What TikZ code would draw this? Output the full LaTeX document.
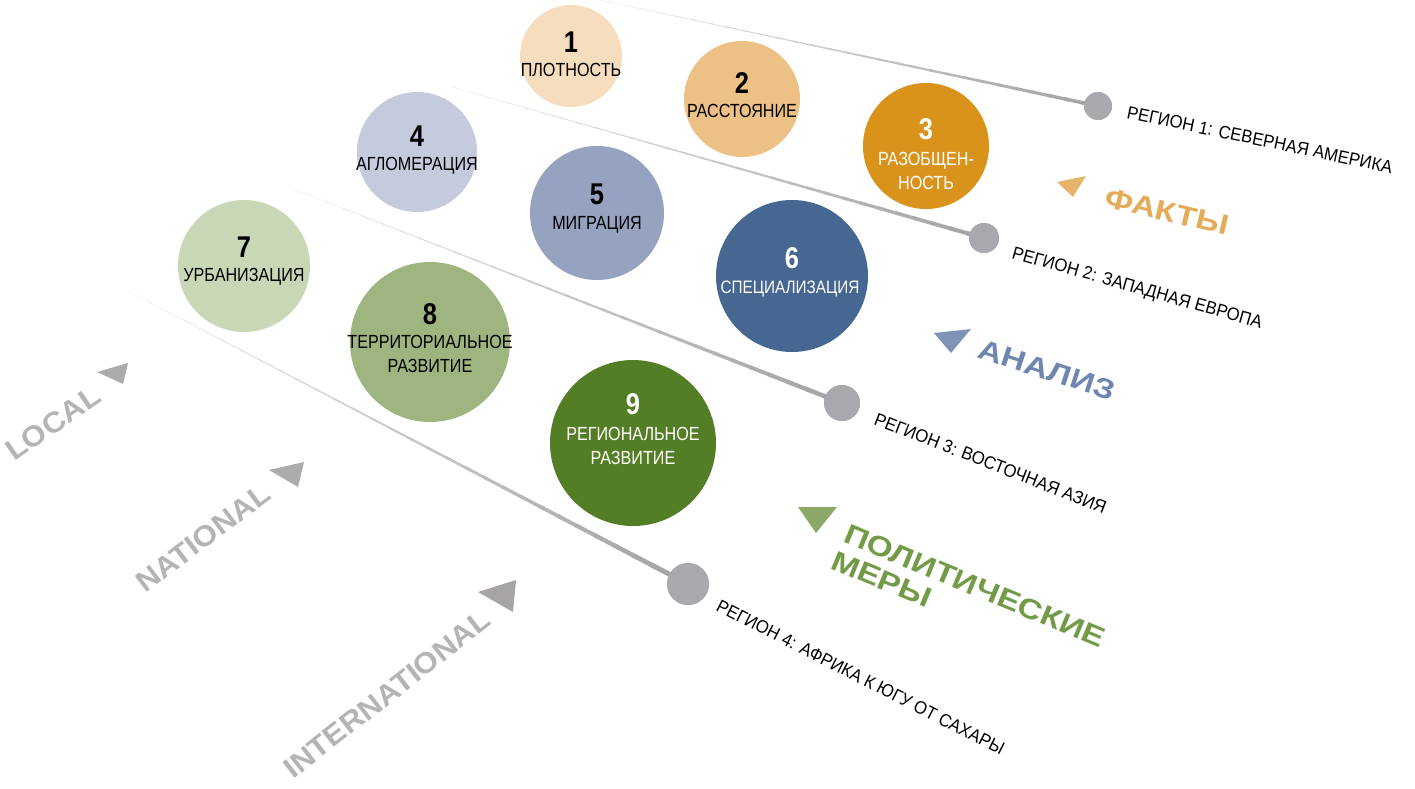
\documentclass[tikz,border=0pt]{standalone}
\usepackage{fontspec}
\setmainfont{Liberation Sans}
\newfontfamily\condf[FakeStretch=0.85]{Liberation Sans}
\newfontfamily\regf[FakeStretch=0.93]{Liberation Sans}
\newfontfamily\widef[FakeStretch=1.2]{Liberation Sans}
\newfontfamily\axf[FakeStretch=1.08]{Liberation Sans}
\usetikzlibrary{calc}
\definecolor{cA}{HTML}{F5DDBD}
\definecolor{cB}{HTML}{EDC185}
\definecolor{cC}{HTML}{D9921A}
\definecolor{cD}{HTML}{C5CADD}
\definecolor{cE}{HTML}{95A3C0}
\definecolor{cF}{HTML}{456791}
\definecolor{cG}{HTML}{C9D7B6}
\definecolor{cH}{HTML}{9EB57F}
\definecolor{cI}{HTML}{547E25}
\definecolor{dotgray}{HTML}{A7A9AC}
\definecolor{axgray}{HTML}{B4B4B6}
\definecolor{axtri}{HTML}{ACABAD}
\definecolor{axtriB}{HTML}{A8A4A4}
\definecolor{faktxt}{HTML}{E4AC58}
\definecolor{faktri}{HTML}{E6B46A}
\definecolor{antxt}{HTML}{6F87B0}
\definecolor{antri}{HTML}{7F93B8}
\definecolor{poltxt}{HTML}{739B47}
\definecolor{poltri}{HTML}{8BA866}
\begin{document}
\begin{tikzpicture}[x=1pt,y=-1pt,
  bub/.style={circle, inner sep=0pt, minimum size=#1pt, draw=none},
  num/.style={font=\condf\bfseries\fontsize{30}{30}\selectfont, inner sep=0pt},
  lab/.style={font=\condf\fontsize{19}{24}\selectfont, inner sep=0pt, anchor=base},
  dotn/.style={circle, fill=dotgray, inner sep=0pt, minimum size=#1pt},
  reg/.style={font=\regf\fontsize{18}{22}\selectfont, inner sep=0pt, anchor=base west},
  big/.style={font=\widef\bfseries\fontsize{28}{30}\selectfont, inner sep=0pt, anchor=base west},
  axl/.style={font=\axf\bfseries\fontsize{29}{29}\selectfont, inner sep=0pt, anchor=base west, text=axgray},
]
\useasboundingbox (0,0) rectangle (1415,788);
\clip (0,0) rectangle (1415,788);

% start points of the connectors
\coordinate (s1) at (590,-2);
\coordinate (s2) at (452,87);
\coordinate (s3) at (288,187);
\coordinate (s4) at (128,291);

% region dots
\node[dotn=28] (r1) at (1098,106) {};
\node[dotn=30] (r2) at (984,238) {};
\node[dotn=36] (r3) at (842,403) {};
\node[dotn=42] (r4) at (688,584) {};

% tapered connectors
\foreach \s/\e/\w in {s1/r1/3.8, s2/r2/4.4, s3/r3/4.8, s4/r4/5.4}{
  \foreach \i in {0,...,29}{
    \pgfmathsetmacro\ta{\i/30}
    \pgfmathsetmacro\tb{(\i+1.3)/30}
    \pgfmathsetmacro\lw{0.4+(\w-0.4)*(\ta)^1.4}
    \pgfmathsetmacro\cc{7+30*\ta}
    \draw[line width=\lw pt, draw=black!\cc] ($(\s)!\ta!(\e)$) -- ($(\s)!\tb!(\e)$);
  }
}
% redraw dots on top
\fill[dotgray] (r1) circle (14);
\fill[dotgray] (r2) circle (15);
\fill[dotgray] (r3) circle (18);
\fill[dotgray] (r4) circle (21);

% bubbles
\node[bub=102, fill=cA] (b1) at (571,56) {};
\node[bub=116, fill=cB] (b2) at (742,99) {};
\node[bub=126, fill=cC] (b3) at (926,146) {};
\node[bub=120, fill=cD] (b4) at (417,152) {};
\node[bub=134, fill=cE] (b5) at (597,213) {};
\node[bub=152, fill=cF] (b6) at (792,276) {};
\node[bub=132, fill=cG] (b7) at (244,266) {};
\node[bub=160, fill=cH] (b8) at (430,342) {};
\node[bub=166, fill=cI] (b9) at (633,443) {};

% bubble texts
\node[num] (n1) at (571,42) {1};
\node[lab] (l1) at (571,76) {ПЛОТНОСТЬ};
\node[num] (n2) at (742,83) {2};
\node[lab] (l2) at (742,117) {РАССТОЯНИЕ};
\node[num, text=white] (n3) at (926,129) {3};
\node[lab, text=white] (l3a) at (926,165) {РАЗОБЩЕН-};
\node[lab, text=white] (l3b) at (926,189) {НОСТЬ};
\node[num] (n4) at (417,136) {4};
\node[lab] (l4) at (417,170) {АГЛОМЕРАЦИЯ};
\node[num] (n5) at (597,194) {5};
\node[lab] (l5) at (597,229) {МИГРАЦИЯ};
\node[num, text=white] (n6) at (792,258) {6};
\node[lab, text=white, font=\condf\fontsize{18}{24}\selectfont] (l6) at (790,293) {СПЕЦИАЛИЗАЦИЯ};
\node[num] (n7) at (244,247) {7};
\node[lab] (l7) at (244,281) {УРБАНИЗАЦИЯ};
\node[num] (n8) at (430,314) {8};
\node[lab] (l8a) at (430,348) {ТЕРРИТОРИАЛЬНОЕ};
\node[lab] (l8b) at (430,372) {РАЗВИТИЕ};
\node[num, text=white] (n9) at (633,404) {9};
\node[lab, text=white] (l9a) at (633,440) {РЕГИОНАЛЬНОЕ};
\node[lab, text=white] (l9b) at (633,464) {РАЗВИТИЕ};

% region labels
\node[reg, rotate=-11.8] (t1) at (1126,118) {РЕГИОН 1: СЕВЕРНАЯ АМЕРИКА};
\node[reg, rotate=-15.8] (t2) at (1011,258) {РЕГИОН 2: ЗАПАДНАЯ ЕВРОПА};
\node[reg, rotate=-21.3] (t3) at (873,424) {РЕГИОН 3: ВОСТОЧНАЯ АЗИЯ};
\node[reg, rotate=-27] (t4) at (715,610) {РЕГИОН 4: АФРИКА К ЮГУ ОТ САХАРЫ};

% category labels
\fill[faktri] (1057,182) -- (1086,176) -- (1073,197) -- cycle;
\node[big, text=faktxt, rotate=-13.5] (fak) at (1103,206) {ФАКТЫ};
\fill[antri] (934,333) -- (971,329) -- (951,353) -- cycle;
\node[big, text=antxt, rotate=-18] (ana) at (976,357) {АНАЛИЗ};
\fill[poltri] (798,507) -- (837,507) -- (816,533) -- cycle;
\node[big, text=poltxt, rotate=-22.5] (pol) at (842,541) {ПОЛИТИЧЕСКИЕ};
\node[big, text=poltxt, rotate=-22.5] (mer) at (829,568) {МЕРЫ};

% scale labels
\fill[axtri] (97,372) -- (128,363) -- (123,384) -- cycle;
\node[axl, rotate=34.5] (loc) at (14,462) {LOCAL};
\fill[axtri] (269,470) -- (304,462) -- (298,487) -- cycle;
\node[axl, rotate=37] (nat) at (145,594) {NATIONAL};
\fill[axtriB] (478,592) -- (516,580) -- (513,612) -- cycle;
\node[axl, rotate=38] (int) at (293,780) {INTERNATIONAL};
\end{tikzpicture}
\end{document}
